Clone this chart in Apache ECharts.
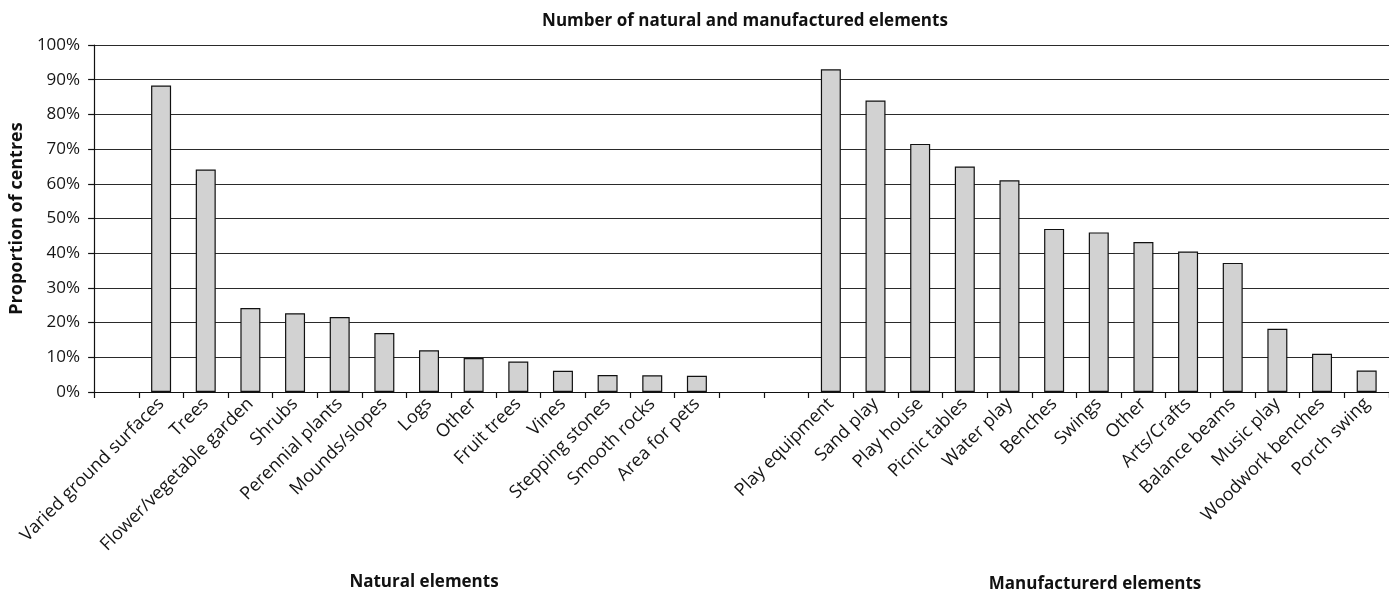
<!DOCTYPE html>
<html>
<head>
<meta charset="utf-8">
<title>Number of natural and manufactured elements</title>
<script src="https://cdn.jsdelivr.net/npm/echarts@6/dist/echarts.min.js"></script>
<style>
  html, body { margin: 0; padding: 0; background: #ffffff; }
  #chart { width: 1389px; height: 597px; }
</style>
</head>
<body>
<div id="chart"></div>
<script>
// Natural elements found in outdoor play spaces (proportion of centres, %)
const naturalCategories = [
  'Varied ground surfaces', 'Trees', 'Flower/vegetable garden', 'Shrubs',
  'Perennial plants', 'Mounds/slopes', 'Logs', 'Other', 'Fruit trees',
  'Vines', 'Stepping stones', 'Smooth rocks', 'Area for pets'
];
const naturalValues = [88.3, 64.1, 24.2, 22.7, 21.6, 17.0, 12.0, 9.8, 8.8, 6.1, 4.9, 4.8, 4.7];

// Manufactured elements (proportion of centres, %)
const manufacturedCategories = [
  'Play equipment', 'Sand play', 'Play house', 'Picnic tables', 'Water play',
  'Benches', 'Swings', 'Other', 'Arts/Crafts', 'Balance beams', 'Music play',
  'Woodwork benches', 'Porch swing'
];
const manufacturedValues = [93.0, 84.0, 71.5, 65.0, 61.0, 47.0, 46.0, 43.2, 40.5, 37.2, 18.2, 11.0, 6.2];

const yTicks = [0, 10, 20, 30, 40, 50, 60, 70, 80, 90, 100];

// One shared category axis: a blank slot before the natural group and two
// blank slots separating it from the manufactured group.
const leadingGap = [''];
const middleGap = ['', ''];
const categories = [].concat(leadingGap, naturalCategories, middleGap, manufacturedCategories);
const values = [].concat(
  leadingGap.map(() => null),
  naturalValues,
  middleGap.map(() => null),
  manufacturedValues
);

const FONT = '"Open Sans", "DejaVu Sans", sans-serif';
const chart = echarts.init(document.getElementById('chart'), null, { renderer: 'canvas' });

chart.setOption({
  animation: false,
  backgroundColor: '#ffffff',
  textStyle: { fontFamily: FONT },
  title: {
    text: 'Number of natural and manufactured elements',
    left: 740, top: 8, textAlign: 'center',
    textStyle: { fontFamily: FONT, fontSize: 17, fontWeight: 'bold', color: '#111' }
  },
  grid: { left: 89, right: 0, top: 45, bottom: 205, containLabel: false },
  xAxis: {
    type: 'category',
    data: categories,
    boundaryGap: true,
    axisLine: { show: true, lineStyle: { color: '#111', width: 1.2 } },
    axisTick: { show: true, alignWithLabel: false, interval: 0, length: 6, lineStyle: { color: '#111', width: 1.2 } },
    axisLabel: {
      interval: 0, rotate: 45, margin: 9,
      fontFamily: FONT, fontSize: 18, color: '#151515'
    },
    splitLine: { show: false }
  },
  yAxis: {
    type: 'value',
    min: yTicks[0], max: yTicks[yTicks.length - 1], interval: 10,
    name: 'Proportion of centres',
    nameLocation: 'middle', nameGap: 64, nameRotate: 90,
    nameTextStyle: { fontFamily: FONT, fontSize: 18, fontWeight: 'bold', color: '#111' },
    axisLine: { show: true, lineStyle: { color: '#111', width: 1.2 } },
    axisTick: { show: true, length: 6, inside: false, lineStyle: { color: '#111', width: 1.2 } },
    axisLabel: {
      margin: 14, fontFamily: FONT, fontSize: 17, color: '#151515',
      formatter: v => v + '%'
    },
    splitLine: { show: true, lineStyle: { color: '#2a2a2a', width: 1.2 } }
  },
  series: [{
    type: 'bar',
    data: values,
    barWidth: 20,
    itemStyle: { color: '#d2d2d2', borderColor: '#111', borderWidth: 1.2 }
  }],
  graphic: [
    {
      type: 'text', x: 424, y: 574,
      style: {
        text: 'Natural elements', textAlign: 'center',
        font: 'bold 17px ' + FONT, fill: '#111'
      }
    },
    {
      type: 'text', x: 1095, y: 576,
      style: {
        text: 'Manufacturerd elements', textAlign: 'center',
        font: 'bold 17px ' + FONT, fill: '#111'
      }
    }
  ]
});
</script>
</body>
</html>
